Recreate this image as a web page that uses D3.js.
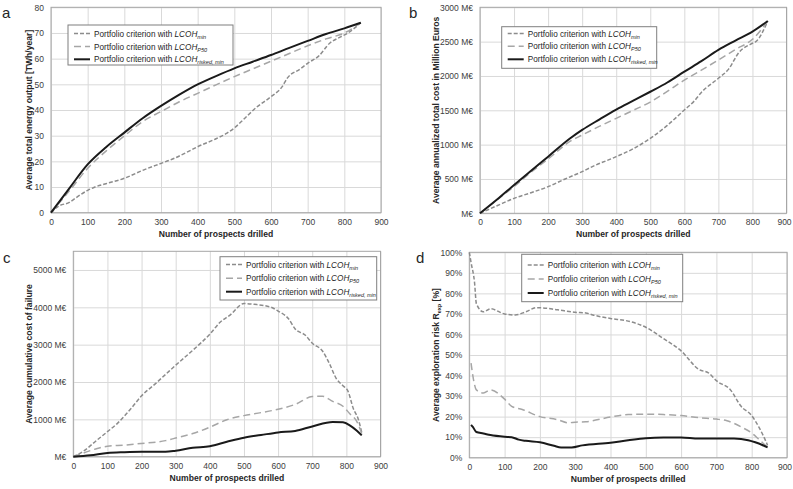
<!DOCTYPE html>
<html>
<head>
<meta charset="utf-8">
<script src="https://cdn.jsdelivr.net/npm/d3@7"></script>
<style>
  body { margin: 0; background: #fff; }
  svg { font-family: "Liberation Sans", Arial, sans-serif; }
  .tick text { fill: #404040; font-size: 8.5px; }
  .grid line { stroke: #d9d9d9; stroke-width: 1; }
  .grid path { display: none; }
  .axtitle { font-size: 8.6px; font-weight: bold; fill: #262626; }
  .legtext { font-size: 8.2px; fill: #262626; }
</style>
</head>
<body>
<script>
// data, [prospects drilled, value]

// a: energy output [TWh/year]
var energyMin = [[0,0],[20,2.5],[50,4],[70,6],[100,8.7],[120,10],[150,11.3],[200,13.4],[250,16.5],[300,19.2],[330,20.8],[370,23.5],[400,25.7],[450,28.8],[480,31],[500,33],[530,37],[560,41],[600,45.2],[630,49],[645,52.5],[680,56],[700,58.2],[730,61],[760,66],[790,68.5],[810,70],[845,74]];
var energyP50 = [[0,0],[50,8.5],[100,17.3],[150,24],[200,29.9],[250,35.5],[300,39.4],[350,43.2],[400,46.5],[450,49.8],[500,53],[550,56],[600,59],[650,62],[700,65],[750,67.7],[800,70],[845,74]];
var energyRisk = [[0,0],[50,9.5],[100,18.8],[150,25.5],[200,31.2],[250,36.8],[300,41.6],[350,46],[400,50],[450,53.2],[500,56.2],[550,58.8],[600,61.4],[650,64.2],[700,66.9],[750,69.6],[800,71.8],[845,74]];

// b: annualized total cost [M€]
var costMin = [[0,0],[50,110],[100,218],[150,300],[200,388],[250,500],[300,607],[330,680],[400,825],[450,940],[500,1092],[550,1280],[600,1505],[630,1640],[650,1760],[700,1966],[730,2100],[760,2340],[800,2476],[810,2500],[845,2800]];
var costP50 = [[0,0],[50,195],[100,390],[150,600],[200,790],[265,1050],[300,1140],[350,1265],[400,1383],[450,1500],[500,1620],[550,1775],[600,1940],[650,2085],[700,2233],[750,2385],[800,2534],[845,2800]];
var costRisk = [[0,0],[50,200],[100,412],[150,620],[200,825],[265,1092],[300,1214],[350,1365],[400,1510],[450,1640],[500,1770],[550,1905],[600,2063],[650,2215],[700,2379],[750,2515],[800,2646],[845,2800]];

// c: cumulative cost of failure [M€]
var failMin = [[0,0],[30,150],[70,450],[100,670],[130,900],[170,1300],[200,1630],[240,1950],[270,2200],[300,2450],[350,2850],[400,3280],[430,3600],[460,3800],[500,4100],[530,4080],[580,4000],[600,3900],[630,3700],[650,3420],[680,3250],[700,3040],[730,2830],[750,2500],[770,2100],[790,1900],[805,1750],[820,1300],[835,1000],[845,650]];
var failP50 = [[0,0],[30,100],[70,220],[100,280],[150,310],[200,355],[270,430],[300,500],[350,620],[400,790],[450,990],[500,1100],[550,1180],[600,1270],[650,1400],[700,1610],[730,1620],[760,1480],[790,1350],[810,1150],[830,950],[845,620]];
var failRisk = [[0,0],[50,40],[100,100],[150,120],[200,130],[270,130],[300,160],[350,240],[400,280],[450,400],[500,510],[550,580],[600,650],[650,690],[700,810],[760,930],[790,920],[810,840],[830,700],[845,570]];

// d: exploration risk [%]
var riskMin = [[0,100],[5,95],[15,85],[20,75],[40,71],[60,72.5],[100,70],[130,69.5],[160,71],[190,73],[200,73],[250,72],[300,70.8],[330,70.5],[350,69.5],[400,67.8],[450,66.5],[500,63.5],[550,58],[600,52],[650,43],[680,41],[700,37.5],[740,33],[770,25],[800,20.5],[820,15],[840,8],[845,6]];
var riskP50 = [[5,46],[10,40],[20,33],[40,31.5],[60,33],[100,28.5],[120,25],[150,23.5],[200,20],[250,18.5],[280,17],[300,17.3],[330,17.5],[400,19.8],[450,21],[500,21.2],[550,21],[600,20.5],[650,19.5],[700,18.8],[730,18],[770,15],[800,12],[820,9],[845,5]];
var riskRisk = [[5,16],[10,15],[20,12.5],[40,11.8],[60,11],[100,10.2],[120,10],[140,8.8],[160,8.2],[200,7.5],[240,5.8],[260,5],[290,5],[320,6],[400,7.3],[450,8.5],[500,9.5],[550,9.8],[600,9.8],[650,9.3],[700,9.3],[750,9.3],[790,8.5],[810,7.5],[830,6.2],[845,5]];

var xTicks = [0,100,200,300,400,500,600,700,800,900];
var legendSubs = ["min", "P50", "risked, min"];

var styles = [
  {color: "#8c8c8c", width: 1.5, dash: "4,2"},
  {color: "#a6a6a6", width: 1.5, dash: "7,4"},
  {color: "#1a1a1a", width: 2, dash: null}
];

var euro = function(d) { return d === 0 ? "M€" : d + " M€"; };

var panels = [
  {label: "a", left: 51, right: 381, top: 7.3, bottom: 212.7, yMax: 80, yTicks: d3.range(0, 81, 10), fmt: String,
   title: ["Average total energy output [TWh/year]"], series: [energyMin, energyP50, energyRisk],
   leg: {x: 68, y: 25, w: 165, h: 40, rows: [33.5, 46.5, 59.3]}, lab: [2, 18]},
  {label: "b", left: 480, right: 786.5, top: 7.3, bottom: 213.3, yMax: 3000, yTicks: d3.range(0, 3001, 500), fmt: euro,
   title: ["Average annualized total cost in Million Euros"], series: [costMin, costP50, costRisk],
   leg: {x: 501.7, y: 26.7, w: 155, h: 41.6, rows: [33.5, 46.2, 59.3]}, lab: [409, 18]},
  {label: "c", left: 73.3, right: 380.5, top: 251.3, bottom: 456.7, yMax: 5500, yTicks: d3.range(0, 5001, 1000), fmt: euro,
   title: ["Average cumulative cost of failure"], series: [failMin, failP50, failRisk],
   leg: {x: 220, y: 256.7, w: 156.7, h: 43.3, rows: [264.5, 278.3, 291.7]}, lab: [3, 263]},
  {label: "d", left: 469.3, right: 787, top: 252.3, bottom: 457.7, yMax: 100, yTicks: d3.range(0, 101, 10), fmt: function(d) { return d + "%"; },
   title: ["Average exploration risk R", "exp", " [%]"], series: [riskMin, riskP50, riskRisk],
   leg: {x: 521.7, y: 254.3, w: 161, h: 47.4, rows: [265, 279, 293]}, lab: [416, 263]}
];

var svg = d3.select("body").append("svg")
    .attr("width", 793)
    .attr("height", 489);

panels.forEach(function(p) {
  var w = p.right - p.left,
      h = p.bottom - p.top;

  var x = d3.scaleLinear().domain([0, 900]).range([0, w]);
  var y = d3.scaleLinear().domain([0, p.yMax]).range([h, 0]);

  var g = svg.append("g")
      .attr("transform", "translate(" + p.left + "," + p.top + ")");

  // gridlines
  g.append("g").attr("class", "grid")
      .attr("transform", "translate(0," + h + ")")
      .call(d3.axisBottom(x).tickValues(xTicks).tickSize(-h).tickFormat(""));
  g.append("g").attr("class", "grid")
      .call(d3.axisLeft(y).tickValues(p.yTicks).tickSize(-w).tickFormat(""));

  g.append("rect")
      .attr("width", w)
      .attr("height", h)
      .attr("fill", "none")
      .attr("stroke", "#a6a6a6")
      .attr("stroke-width", 1);

  // axes
  var xa = g.append("g")
      .attr("transform", "translate(0," + h + ")")
      .call(d3.axisBottom(x).tickValues(xTicks).tickSize(0).tickPadding(6));
  xa.select(".domain").remove();
  xa.selectAll("text").attr("font-family", null);
  // keep the last label inside the window on the right-hand panels
  if (p.right > 780) {
    xa.selectAll(".tick text").filter(function(d) { return d === 900; }).attr("dx", -2.5);
  }

  var ya = g.append("g")
      .call(d3.axisLeft(y).tickValues(p.yTicks).tickSize(0).tickPadding(7).tickFormat(p.fmt));
  ya.select(".domain").remove();
  ya.selectAll("text").attr("font-family", null);

  g.append("text")
      .attr("class", "axtitle")
      .attr("x", w / 2)
      .attr("y", h + 24)
      .attr("text-anchor", "middle")
      .text("Number of prospects drilled");

  var yt = g.append("text")
      .attr("class", "axtitle")
      .attr("text-anchor", "middle")
      .attr("transform", "translate(" + (p.left > 400 ? 439 - p.left : 32 - p.left) + "," + (h / 2) + ") rotate(-90)");
  yt.append("tspan").text(p.title[0]);
  if (p.title.length > 1) {
    yt.append("tspan").attr("font-size", "5.5px").attr("dy", 2).text(p.title[1]);
    yt.append("tspan").attr("dy", -2).text(p.title[2]);
  }

  // lines
  var line = d3.line()
      .x(function(d) { return x(d[0]); })
      .y(function(d) { return y(d[1]); })
      .curve(d3.curveMonotoneX);

  p.series.forEach(function(s, i) {
    g.append("path")
        .datum(s)
        .attr("d", line)
        .attr("fill", "none")
        .attr("stroke", styles[i].color)
        .attr("stroke-width", styles[i].width)
        .attr("stroke-dasharray", styles[i].dash)
        .attr("stroke-linejoin", "round");
  });

  // legend
  var leg = svg.append("g");
  leg.append("rect")
      .attr("x", p.leg.x).attr("y", p.leg.y)
      .attr("width", p.leg.w).attr("height", p.leg.h)
      .attr("fill", "#fff")
      .attr("stroke", "#7f7f7f")
      .attr("stroke-width", 1);

  legendSubs.forEach(function(sub, i) {
    var ry = p.leg.rows[i];
    leg.append("line")
        .attr("x1", p.leg.x + 6).attr("x2", p.leg.x + 22)
        .attr("y1", ry).attr("y2", ry)
        .attr("stroke", styles[i].color)
        .attr("stroke-width", styles[i].width)
        .attr("stroke-dasharray", styles[i].dash);
    var t = leg.append("text")
        .attr("class", "legtext")
        .attr("x", p.leg.x + 26)
        .attr("y", ry + 3);
    t.append("tspan").text("Portfolio criterion with ");
    t.append("tspan").attr("font-style", "italic").text("LCOH");
    t.append("tspan").attr("font-style", "italic").attr("font-size", "5.5px").attr("dy", 2).text(sub);
  });

  svg.append("text")
      .attr("x", p.lab[0])
      .attr("y", p.lab[1])
      .attr("font-size", "15px")
      .attr("fill", "#262626")
      .text(p.label);
});
</script>
</body>
</html>
